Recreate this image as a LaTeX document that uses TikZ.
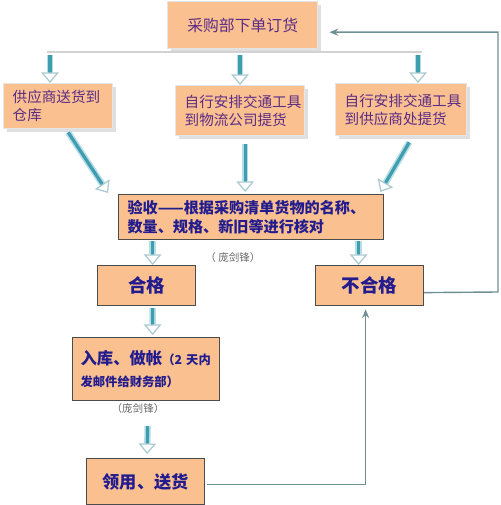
\documentclass[tikz,border=0pt]{standalone}
\usepackage{fontspec}
\newfontfamily\cjk{Noto Sans CJK SC}
\usetikzlibrary{arrows.meta,calc,shadows}
\definecolor{peach}{HTML}{FAC090}
\definecolor{inkpurple}{HTML}{5A2C86}
\definecolor{inknavy}{HTML}{231C8E}
\definecolor{aqua}{HTML}{3F9DB0}
\definecolor{aqualt}{HTML}{B4DDE6}
\definecolor{wire}{HTML}{6E8F93}

\begin{document}
\begin{tikzpicture}[x=0.2mm,y=-0.2mm,
  upbox/.style={anchor=north west,fill=peach,draw=gray!20,line width=0.8pt,
    drop shadow={shadow xshift=0.7mm,shadow yshift=-0.7mm,opacity=0.25},
    inner ysep=0pt,inner xsep=1.8mm,text=inkpurple,align=left,
    font=\cjk\fontsize{8.3}{10.2}\selectfont},
  lowbox/.style={anchor=north west,fill=peach,draw=black!70,line width=0.7pt,
    inner ysep=0pt,text=inknavy,font=\cjk\bfseries\fontsize{10.5}{12}\selectfont},
  fat/.style={line width=1.8pt,draw=aqua,
    preaction={draw=aqualt,line width=3.6pt,-,shorten >=6pt},
    -{Triangle[open,fill=white,color=aqualt!80!gray,line width=0.7pt,length=6pt,width=10pt]}},
  back/.style={draw=wire,line width=0.8pt,-{Stealth[length=5pt,width=4pt]}},
  note/.style={text=gray!80!black,font=\cjk\fontsize{6}{7}\selectfont}]
  \useasboundingbox (0,0) rectangle (500,505);

  \node[upbox,minimum width=30mm,minimum height=9.4mm,align=center] (order) at (167,1) {\fontsize{9}{11}\selectfont 采购部下单订货};
  \node[upbox,text width=18.2mm,minimum height=9mm] (sup) at (3,83) {供应商送货到\\仓库};
  \node[upbox,text width=22.2mm,minimum height=10mm] (lgs) at (175,85) {自行安排交通工具\\到物流公司提货};
  \node[upbox,text width=22.6mm,minimum height=10.4mm] (spl) at (335,83) {自行安排交通工具\\到供应商处提货};

  \node[lowbox,inner xsep=1.8mm,text width=49.4mm,minimum height=9mm,align=left,
    font=\cjk\bfseries\fontsize{8.6}{10.4}\selectfont] (check) at (118,194)
    {验收——根据采购清单货物的名称、\\数量、规格、新旧等进行核对};
  \node[lowbox,minimum width=19.6mm,minimum height=8mm] (pass) at (97,265) {合格};
  \node[lowbox,minimum width=21.6mm,minimum height=8mm] (fail) at (315,265) {不合格};
  \node[lowbox,inner xsep=1.6mm,text width=26.2mm,minimum height=12.6mm,align=left,
    font=\cjk\bfseries\fontsize{7}{13}\selectfont] (store) at (72,337)
    {{\fontsize{9.3}{13}\selectfont 入库、做帐}（2 天内\\发邮件给财务部）};
  \node[lowbox,minimum width=23.6mm,minimum height=9.2mm,font=\cjk\bfseries\fontsize{9.8}{12}\selectfont] (deliver) at (86,458) {领用、送货};

  \node[note] (note1) at (233,257) {（ 庞剑锋）};
  \node[note] (note2) at (138,408) {（庞剑锋）};

  % order splits three ways
  \coordinate (r1) at (50,52);
  \coordinate (r2) at (240,52);
  \coordinate (r3) at (418,52);
  \draw[draw=gray!35,line width=0.8pt] ($(r1)+(-3,0)$) -- ($(r3)+(4,0)$);
  \foreach \r/\b in {r1/sup,r2/lgs,r3/spl}
    \draw[fat] ($(\r)+(0,3)$) -- (\r |- \b.north);

  \draw[fat] ($(sup.south)+(10,3)$) -- ($(check.north west)+(-10,-1)$);
  \draw[fat] ($(lgs.south)+(5,8)$) -- ($(lgs.south |- check.north)+(5,-2)$);
  \draw[fat] ($(spl.south)+(8,6)$) -- ($(check.north east)+(-4,-2)$);

  \draw[fat] ($(check.south -| pass.north)+(6,1)$) -- ($(pass.north)+(6,0)$);
  \draw[fat] ($(check.south -| fail.north)+(-11,1)$) -- ($(fail.north)+(-11,0)$);
  \draw[fat] ($(pass.south)+(6,2)$) -- ($(store.north)+(6.5,-2)$);
  \draw[fat] ($(store.south)+(1.5,25)$) -- ($(deliver.north)+(1.5,-4)$);

  % return paths
  \coordinate (corner) at (498,292);
  \draw[back] ($(fail.east)+(0,7)$) -- (corner) |- ($(order.east)+(11,7)$);
  \draw[back] ($(deliver.east)+(2,3)$) -| ($(fail.south)+(-4,3)$);
\end{tikzpicture}
\end{document}
